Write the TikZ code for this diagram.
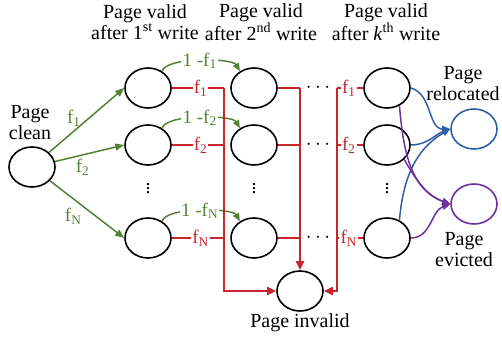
\documentclass[tikz,border=0pt]{standalone}
\usepackage{fontspec}
\setmainfont{Liberation Serif}
\usetikzlibrary{arrows.meta,shapes.geometric}
\definecolor{gr}{HTML}{548235}
\definecolor{rd}{HTML}{C9252C}
\definecolor{bl}{HTML}{2F5FA8}
\definecolor{pu}{HTML}{7030A0}
\begin{document}
\begin{tikzpicture}[x=1pt,y=-1pt,
  every node/.style={font=\fontsize{20}{21}\selectfont},
  st/.style={draw,ellipse,minimum width=46pt,minimum height=40pt,line width=1.6pt,inner sep=0pt},
  txt/.style={align=center,inner sep=0pt},
  lab/.style={font=\fontsize{19}{20}\selectfont,inner sep=1.2pt},
  glab/.style={lab,text=gr,fill=white},
  glabn/.style={lab,text=gr},
  rlab/.style={lab,text=rd,fill=white},
  ga/.style={draw=gr,line width=1.5pt,-{Triangle[length=9pt,width=7pt]}},
  gc/.style={draw=gr,line width=1.5pt,-{Triangle[length=8pt,width=6.5pt]}},
  rl/.style={draw=rd,line width=1.4pt},
  rb/.style={draw=rd,line width=2.1pt,-{Triangle[length=9pt,width=8pt]}},
  ba/.style={draw=bl,line width=1.5pt,-{Triangle[length=8pt,width=6.5pt]}},
  pa/.style={draw=pu,line width=1.5pt,-{Triangle[length=8pt,width=6.5pt]}},
  bst/.style={st,draw=bl},
  pst/.style={st,draw=pu}]
\useasboundingbox (0,0) rectangle (502,339);

% headers
\node[txt] (h1) at (145,22) {Page valid\\after 1\textsuperscript{st} write};
\node[txt] (h2) at (261,22) {Page valid\\after 2\textsuperscript{nd} write};
\node[txt] (hk) at (386,22) {Page valid\\after \textit{k}\textsuperscript{th} write};

% states
\node[st] (clean) at (32,167) {};
\node[txt] (tclean) at (30,123) {Page\\clean};
\node[st] (c1a) at (148,88) {};
\node[st] (c1b) at (148,145) {};
\node[st] (c1n) at (148,238) {};
\node[st] (c2a) at (254,88) {};
\node[st] (c2b) at (254,145) {};
\node[st] (c2n) at (254,238) {};
\node[st] (cka) at (387,88) {};
\node[st] (ckb) at (387,145) {};
\node[st] (ckn) at (387,238) {};
\node[st] (inv) at (300,291) {};
\node[txt] (tinv) at (300,323) {Page invalid};
\node[bst] (rel) at (474,129) {};
\node[txt] (trel) at (463,84) {Page\\relocated};
\node[pst] (ev) at (474,204) {};
\node[txt] (tev) at (464,250) {Page\\evicted};

% dots
\node (v1) at (148,186) {$\vdots$};
\node (v2) at (254,186) {$\vdots$};
\node (vk) at (387,186) {$\vdots$};
\node (da) at (318,88) {$\cdots$};
\node (db) at (318,145) {$\cdots$};
\node (dn) at (318,238) {$\cdots$};

% green from clean
\draw[ga] (clean) -- node[glabn,pos=.33,above=3pt]{f\textsubscript{1}} (c1a.west);
\draw[ga] (clean) -- node[glabn,pos=.4,below=2pt]{f\textsubscript{2}} (c1b.west);
\draw[ga] (clean) -- node[glabn,pos=.45,below left=0pt]{f\textsubscript{N}} (c1n.west);

% green curves between col1 and col2
\draw[gc] (c1a.50) to[out=75,in=120,looseness=.5] node[glab]{1 -f\textsubscript{1}} (c2a.130);
\draw[gc] (c1b.50) to[out=75,in=120,looseness=.5] node[glab]{1 -f\textsubscript{2}} (c2b.130);
\draw[gc] (c1n.50) to[out=75,in=120,looseness=.5] node[glab]{1 -f\textsubscript{N}} (c2n.130);

% red bus coordinates
\coordinate (b1t) at (224,88);
\coordinate (b2t) at (300,88);
\coordinate (b3t) at (337,88);

% red stubs col1
\draw[rl] (c1a.east) -- node[rlab,pos=.55]{f\textsubscript{1}} (c1a.east -| b1t);
\draw[rl] (c1b.east) -- node[rlab,pos=.55]{f\textsubscript{2}} (c1b.east -| b1t);
\draw[rl] (c1n.east) -- node[rlab,pos=.55]{f\textsubscript{N}} (c1n.east -| b1t);
% red stubs col2
\draw[rl] (c2a.east) -- (c2a.east -| b2t);
\draw[rl] (c2b.east) -- (c2b.east -| b2t);
\draw[rl] (c2n.east) -- (c2n.east -| b2t);
% red stubs colk
\draw[rl] (cka.west -| b3t) -- node[rlab,pos=.45]{f\textsubscript{1}} (cka.west);
\draw[rl] (ckb.west -| b3t) -- node[rlab,pos=.45]{f\textsubscript{2}} (ckb.west);
\draw[rl] (ckn.west -| b3t) -- node[rlab,pos=.45]{f\textsubscript{N}} (ckn.west);

% red buses
\draw[rb] (b1t) |- (inv.west);
\draw[rb] (b2t) -- (inv.north);
\draw[rb] (b3t) |- (inv.east);

% blue to relocated
\draw[ba] (cka.east) to[out=-15,in=180] (rel.west);
\draw[ba] (ckb.east) to[out=0,in=200] (rel.west);
\draw[ba] (ckn.55) to[out=85,in=210] (rel.west);

% purple to evicted
\draw[pa] (cka.-55) to[out=-85,in=160] (ev.west);
\draw[pa] (ckb.-40) to[out=-60,in=160] (ev.west);
\draw[pa] (ckn.east) to[out=0,in=200] (ev.west);
\end{tikzpicture}
\end{document}
